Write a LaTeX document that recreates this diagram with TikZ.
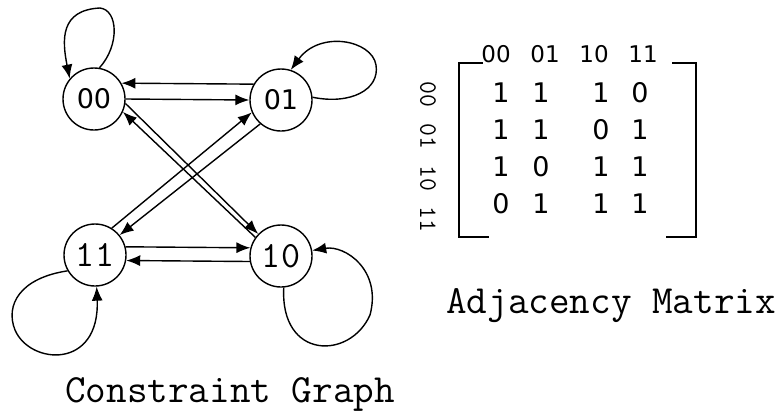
\documentclass[tikz,border=0pt]{standalone}
\usepackage{fontspec}
\newfontfamily\digitfont{DejaVu Sans}
\usetikzlibrary{arrows.meta}
\tikzset{stateNode/.style={shape=circle, draw, line width=1.4pt, inner sep=0pt, minimum size=62pt, fill=white}}
\tikzset{edge/.style={line width=1.4pt, -{Latex[length=14pt,width=11pt]}}}
\tikzset{caption/.style={anchor=base, inner sep=0pt, font=\fontsize{40}{44}\selectfont\ttfamily}}
\tikzset{entry/.style={inner sep=0pt, font=\fontsize{27}{30}\selectfont\digitfont}}
\tikzset{colLabel/.style={inner sep=0pt, font=\fontsize{23}{26}\selectfont\digitfont}}
\tikzset{rowLabel/.style={inner sep=0pt, rotate=-90, font=\fontsize{25}{28}\selectfont\ttfamily}}

\begin{document}
\begin{tikzpicture}[x=1pt, y=-1pt]
\useasboundingbox (0,0) rectangle (783,410);

% Constraint graph
\node[stateNode, font=\fontsize{27}{30}\selectfont\digitfont] (n00) at (94,99) {00};
\node[stateNode, font=\fontsize{27}{30}\selectfont\digitfont] (n01) at (281,100) {01};
\node[stateNode, font=\fontsize{37}{40}\selectfont\ttfamily] (n11) at (95,255) {11};
\node[stateNode, font=\fontsize{37}{40}\selectfont\ttfamily] (n10) at (281,256) {10};

\draw[edge] (n00.east) -- (n01.west);
\draw[edge] (n01.150) -- (n00.30);
\draw[edge] (n11.15) -- (n10.165);
\draw[edge] (n10.190) -- (n11.350);
\draw[edge] (n00.-8) -- (n10.136);
\draw[edge] (n10.144) -- (n00.-24);
\draw[edge] (n11.58) -- (n01.203);
\draw[edge] (n01.229) -- (n11.39);

% self loops
\draw[edge] (n00.80) .. controls (120,45) and (118,10) .. (100,8)
  .. controls (60,10) and (62,40) .. (n00.140);
\draw[edge] (n01.5) .. controls (350,105) and (380,90) .. (376,65)
  .. controls (372,40) and (320,30) .. (n01.72);
\draw[edge] (n11.210) .. controls (20,278) and (5,305) .. (15,330)
  .. controls (30,365) and (100,370) .. (n11.273);
\draw[edge] (n10.275) .. controls (280,360) and (350,360) .. (370,315)
  .. controls (382,270) and (345,245) .. (n10.10);

\node[caption] (graphTitle) at (230,402) {Constraint Graph};

% Adjacency matrix
\draw[line width=1.4pt] (483,63) -- (459,63) -- (459,237) -- (489,237);
\draw[line width=1.4pt] (672,63) -- (696,63) -- (696,237) -- (666,237);

\node[colLabel] (c00) at (496,54) {00};
\node[colLabel] (c01) at (545,54) {01};
\node[colLabel] (c10) at (594,54) {10};
\node[colLabel] (c11) at (643,54) {11};

\node[rowLabel] (r00) at (428,94) {00};
\node[rowLabel] (r01) at (428,136) {01};
\node[rowLabel] (r10) at (428,178) {10};
\node[rowLabel] (r11) at (428,219) {11};

\foreach \row/\y/\a/\b/\c/\d in {1/93/1/1/1/0, 2/130/1/1/0/1, 3/167/1/0/1/1, 4/204/0/1/1/1}{
  \node[entry] (m\row a) at (501,\y) {\a};
  \node[entry] (m\row b) at (541,\y) {\b};
  \node[entry] (m\row c) at (601,\y) {\c};
  \node[entry] (m\row d) at (640,\y) {\d};
}

\node[caption] (matrixTitle) at (611,313) {Adjacency Matrix};
\end{tikzpicture}
\end{document}
